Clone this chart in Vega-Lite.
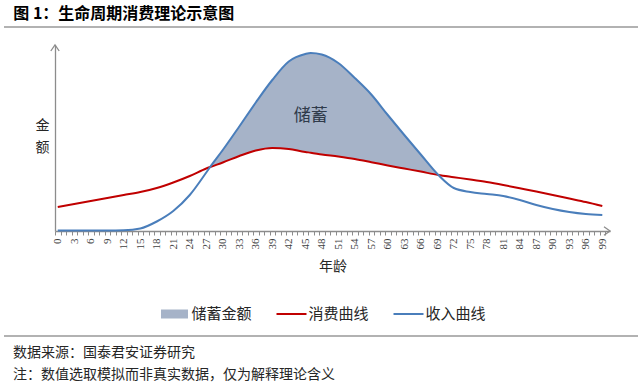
{
  "$schema": "https://vega.github.io/schema/vega-lite/v6.json",
  "padding": {"left": 3, "right": 3, "top": 6, "bottom": 0},
  "config": {"view": {"stroke": null}, "font": "Noto Sans CJK SC"},
  "datasets": {
    "curves": [
      {"age": 0, "消费曲线": 24, "收入曲线": 0.5},
      {"age": 3, "消费曲线": 27, "收入曲线": 0.5},
      {"age": 6, "消费曲线": 30, "收入曲线": 0.5},
      {"age": 9, "消费曲线": 33, "收入曲线": 0.5},
      {"age": 12, "消费曲线": 36, "收入曲线": 0.7},
      {"age": 15, "消费曲线": 39, "收入曲线": 2.5},
      {"age": 18, "消费曲线": 43, "收入曲线": 9.5},
      {"age": 21, "消费曲线": 48.5, "收入曲线": 20},
      {"age": 24, "消费曲线": 55, "收入曲线": 36},
      {"age": 27, "消费曲线": 62.5, "收入曲线": 58.5},
      {"age": 27.7, "消费曲线": 64, "收入曲线": 64},
      {"age": 30, "消费曲线": 68.5, "收入曲线": 81},
      {"age": 33, "消费曲线": 75, "收入曲线": 104.5},
      {"age": 36, "消费曲线": 80.5, "收入曲线": 128.5},
      {"age": 39, "消费曲线": 83, "收入曲线": 151},
      {"age": 42, "消费曲线": 82, "收入曲线": 169.5},
      {"age": 45, "消费曲线": 79, "收入曲线": 177},
      {"age": 46, "消费曲线": 78.3, "收入曲线": 178},
      {"age": 48, "消费曲线": 76.6, "收入曲线": 176.5},
      {"age": 51, "消费曲线": 74.4, "收入曲线": 168},
      {"age": 54, "消费曲线": 71.9, "收入曲线": 153},
      {"age": 57, "消费曲线": 68.8, "收入曲线": 136.5},
      {"age": 60, "消费曲线": 65.6, "收入曲线": 116},
      {"age": 63, "消费曲线": 62.5, "收入曲线": 96},
      {"age": 66, "消费曲线": 59.4, "收入曲线": 76.5},
      {"age": 69.2, "消费曲线": 56, "收入曲线": 56},
      {"age": 72, "消费曲线": 53.8, "收入曲线": 43},
      {"age": 75, "消费曲线": 51.5, "收入曲线": 39},
      {"age": 78, "消费曲线": 49, "收入曲线": 37},
      {"age": 81, "消费曲线": 46, "收入曲线": 35},
      {"age": 84, "消费曲线": 42.7, "收入曲线": 31},
      {"age": 87, "消费曲线": 39.4, "收入曲线": 26},
      {"age": 90, "消费曲线": 36, "收入曲线": 22},
      {"age": 93, "消费曲线": 32.5, "收入曲线": 19},
      {"age": 96, "消费曲线": 29, "收入曲线": 17},
      {"age": 99, "消费曲线": 25, "收入曲线": 16}
    ],
    "notes": [
      {"line": 1, "text": "数据来源：国泰君安证券研究"},
      {"line": 2, "text": "注：数值选取模拟而非真实数据，仅为解释理论含义"}
    ]
  },
  "spacing": 7,
  "vconcat": [
    {
      "width": 634,
      "height": 8,
      "data": {"values": [{}]},
      "title": {"text": "图 1：生命周期消费理论示意图", "anchor": "start", "fontSize": 16, "fontWeight": "bold", "font": "Noto Sans CJK SC", "color": "#000000", "offset": 4, "dx": 10},
      "mark": {"type": "rule", "color": "#999999", "strokeWidth": 1.5},
      "encoding": {"y": {"datum": 0, "type": "quantitative", "scale": {"domain": [0, 1], "reverse": true}, "axis": null}}
    },
    {
      "spacing": 0,
      "hconcat": [
        {
          "width": 31,
          "height": 283,
          "data": {"values": [{}]},
          "mark": {"type": "text", "text": ""},
          "encoding": {}
        },
        {
          "width": 555,
          "height": 186,
          "data": {"name": "curves"},
          "resolve": {"axis": {"x": "independent", "y": "independent"}},
          "layer": [
            {
              "transform": [{"filter": "datum.age >= 27.7 && datum.age <= 69.2"}],
              "mark": {"type": "area", "interpolate": "monotone", "color": "#a6b3c8", "opacity": 1},
              "encoding": {
                "x": {
                  "field": "age", "type": "quantitative",
                  "scale": {"domain": [-0.5, 100.4], "nice": false, "zero": false},
                  "axis": {
                    "title": "年龄",
                    "values": [-0.5, 0.5, 1.5, 2.5, 3.5, 4.5, 5.5, 6.5, 7.5, 8.5, 9.5, 10.5, 11.5, 12.5, 13.5, 14.5, 15.5, 16.5, 17.5, 18.5, 19.5, 20.5, 21.5, 22.5, 23.5, 24.5, 25.5, 26.5, 27.5, 28.5, 29.5, 30.5, 31.5, 32.5, 33.5, 34.5, 35.5, 36.5, 37.5, 38.5, 39.5, 40.5, 41.5, 42.5, 43.5, 44.5, 45.5, 46.5, 47.5, 48.5, 49.5, 50.5, 51.5, 52.5, 53.5, 54.5, 55.5, 56.5, 57.5, 58.5, 59.5, 60.5, 61.5, 62.5, 63.5, 64.5, 65.5, 66.5, 67.5, 68.5, 69.5, 70.5, 71.5, 72.5, 73.5, 74.5, 75.5, 76.5, 77.5, 78.5, 79.5, 80.5, 81.5, 82.5, 83.5, 84.5, 85.5, 86.5, 87.5, 88.5, 89.5, 90.5, 91.5, 92.5, 93.5, 94.5, 95.5, 96.5, 97.5, 98.5, 99.5, 0, 3, 6, 9, 12, 15, 18, 21, 24, 27, 30, 33, 36, 39, 42, 45, 48, 51, 54, 57, 60, 63, 66, 69, 72, 75, 78, 81, 84, 87, 90, 93, 96, 99],
                    "labelExpr": "datum.value % 3 === 0 ? '' + datum.value : ''",
                    "labelAngle": -90,
                    "labelFont": "Liberation Serif",
                    "labelFontSize": 11,
                    "labelColor": "#404040",
                    "labelPadding": 3,
                    "labelOverlap": false,
                    "labelBound": false,
                    "labelFlush": false,
                    "tickSize": 4,
                    "tickColor": "#8c8c8c",
                    "tickWidth": 1,
                    "tickOpacity": {"condition": {"test": "datum.value % 1 !== 0", "value": 1}, "value": 0},
                    "domainColor": "#8c8c8c",
                    "domainWidth": 1.3,
                    "grid": false,
                    "titleFont": "Noto Sans CJK SC",
                    "titleFontSize": 14,
                    "titleFontWeight": "normal",
                    "titleColor": "#262626",
                    "titlePadding": 10
                  }
                },
                "y": {
                  "field": "收入曲线", "type": "quantitative",
                  "scale": {"domain": [0, 186], "nice": false, "zero": true},
                  "axis": {
                    "title": ["金", "额"],
                    "titleAngle": 0,
                    "titleAlign": "right",
                    "titleBaseline": "middle",
                    "titleLineHeight": 22,
                    "titleFontSize": 14,
                    "titleFont": "Noto Sans CJK SC",
                    "titleFontWeight": "normal",
                    "titleColor": "#262626",
                    "titlePadding": -16,
                    "titleY": 80,
                    "ticks": false,
                    "labels": false,
                    "grid": false,
                    "domainColor": "#8c8c8c",
                    "domainWidth": 1.3
                  }
                },
                "y2": {"field": "消费曲线"}
              }
            },
            {
              "transform": [{"fold": ["消费曲线", "收入曲线"], "as": ["series", "amount"]}],
              "mark": {"type": "line", "interpolate": "monotone", "strokeWidth": 2},
              "encoding": {
                "x": {"field": "age", "type": "quantitative", "axis": null},
                "y": {"field": "amount", "type": "quantitative", "axis": null},
                "color": {
                  "field": "series", "type": "nominal",
                  "scale": {"domain": ["储蓄金额", "消费曲线", "收入曲线"], "range": ["#a6b3c8", "#c00000", "#4a7ebb"]},
                  "legend": {
                    "title": null,
                    "orient": "none",
                    "legendX": 154.5,
                    "legendY": 271,
                    "direction": "horizontal",
                    "labelFont": "Noto Sans CJK SC",
                    "labelFontSize": 15,
                    "labelColor": "#262626",
                    "symbolSize": 900,
                    "labelOffset": 1,
                    "columnPadding": 20,
                    "padding": 0,
                    "encode": {
                      "symbols": {
                        "update": {
                          "shape": {"signal": "datum.value === '储蓄金额' ? 'M-0.833,-0.233H0.833V0.233H-0.833Z' : 'M-1,0H1'"},
                          "fill": {"signal": "datum.value === '储蓄金额' ? '#a6b3c8' : 'transparent'"},
                          "stroke": {"signal": "datum.value === '储蓄金额' ? 'transparent' : (datum.value === '消费曲线' ? '#c00000' : '#4a7ebb')"},
                          "strokeWidth": {"value": 2},
                          "opacity": {"value": 1}
                        }
                      }
                    }
                  }
                }
              }
            },
            {
              "data": {"values": [{}]},
              "mark": {"type": "text", "text": "储蓄", "fontSize": 17, "color": "#2f3a4a", "font": "Noto Sans CJK SC"},
              "encoding": {
                "x": {"datum": 46, "type": "quantitative", "axis": null},
                "y": {"datum": 115, "type": "quantitative", "axis": null}
              }
            },
            {
              "data": {"values": [{}]},
              "mark": {"type": "point", "shape": "M-0.7,1L0,0L0.7,1", "size": 144, "filled": false, "stroke": "#8c8c8c", "strokeWidth": 1.3, "opacity": 1},
              "encoding": {
                "x": {"datum": -0.5, "type": "quantitative", "axis": null},
                "y": {"datum": 186, "type": "quantitative", "axis": null}
              }
            },
            {
              "data": {"values": [{}]},
              "mark": {"type": "point", "shape": "M-1,-0.7L0,0L-1,0.7", "size": 144, "filled": false, "stroke": "#8c8c8c", "strokeWidth": 1.3, "opacity": 1},
              "encoding": {
                "x": {"datum": 100.4, "type": "quantitative", "axis": null},
                "y": {"datum": 0, "type": "quantitative", "axis": null}
              }
            }
          ]
        }
      ]
    },
    {
      "width": 634,
      "height": 44,
      "data": {"name": "notes"},
      "layer": [
        {
          "data": {"values": [{}]},
          "mark": {"type": "rule", "color": "#999999", "strokeWidth": 1.5},
          "encoding": {"y": {"datum": 0, "type": "quantitative", "scale": {"domain": [0, 2], "reverse": true}, "axis": null}}
        },
        {
          "mark": {"type": "text", "align": "left", "baseline": "middle", "dx": 9, "dy": -5, "fontSize": 14, "color": "#262626", "font": "Noto Sans CJK SC"},
          "encoding": {
            "x": {"datum": 0, "type": "quantitative", "scale": {"domain": [0, 1]}, "axis": null},
            "y": {"field": "line", "type": "quantitative", "axis": null},
            "text": {"field": "text"}
          }
        }
      ]
    }
  ]
}
